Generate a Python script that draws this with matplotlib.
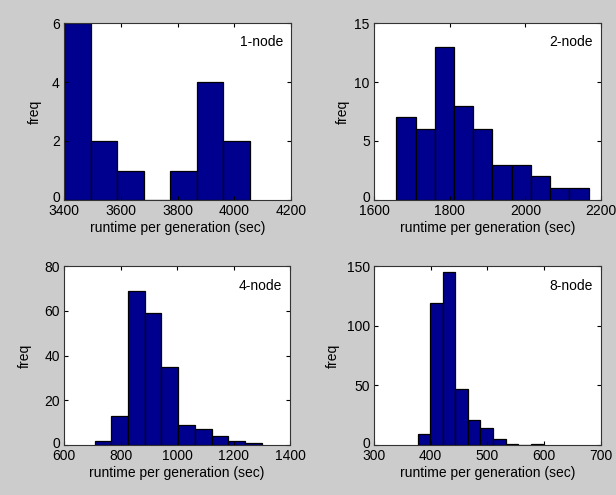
import matplotlib
matplotlib.use("Agg")
import matplotlib.pyplot as plt
import matplotlib.transforms as mtransforms

# ---- data ----
edges_1 = [3400, 3494, 3588, 3681, 3775, 3869, 3962, 4056]
counts_1 = [6, 2, 1, 0, 1, 4, 2]

edges_2 = [1659, 1710, 1761, 1811, 1862, 1913, 1964, 2015, 2065, 2116, 2167]
counts_2 = [7, 6, 13, 8, 6, 3, 3, 2, 1, 1]

edges_4 = [708, 767, 827, 886, 945, 1005, 1064, 1123, 1182, 1242, 1301]
counts_4 = [2, 13, 69, 59, 35, 9, 7, 4, 2, 1]

edges_8 = [377, 399, 421, 443, 465, 487, 510, 532, 554, 576, 598]
counts_8 = [9, 119, 145, 47, 21, 14, 5, 1, 0, 1]

labels = ["1-node", "2-node", "4-node", "8-node"]
xlims = [(3400, 4200), (1600, 2200), (600, 1400), (300, 700)]
xticks = [[3400, 3600, 3800, 4000, 4200], [1600, 1800, 2000, 2200],
          [600, 800, 1000, 1200, 1400], [300, 400, 500, 600, 700]]
ylims = [(0, 6), (0, 15), (0, 80), (0, 150)]
yticks = [[0, 2, 4, 6], [0, 5, 10, 15], [0, 20, 40, 60, 80], [0, 50, 100, 150]]
xlabel = "runtime per generation (sec)"
ylabel = "freq"

plt.rcParams['font.family'] = ['Liberation Sans', 'DejaVu Sans']
plt.rcParams['font.size'] = 10

fig = plt.figure(figsize=(6.16, 4.95), dpi=100, facecolor='#cccccc')

W, H = 616, 495
boxes = [(64, 23, 291, 200), (374, 23, 601, 200),
         (64, 266, 290, 445), (374, 266, 601, 445)]
ylab_x = [-0.130, -0.139, -0.173, -0.181]
data = [(edges_1, counts_1), (edges_2, counts_2), (edges_4, counts_4), (edges_8, counts_8)]

for i, ((l, t, r, b), (edges, counts)) in enumerate(zip(boxes, data)):
    ax = fig.add_axes([l / W, (H - b) / H, (r - l) / W, (b - t) / H])
    ax.set_facecolor('white')
    lefts = edges[:-1]
    widths = [edges[k + 1] - edges[k] for k in range(len(edges) - 1)]
    ax.bar(lefts, counts, width=widths, align='edge', color='#00008f',
           edgecolor='black', linewidth=0.9)
    ax.set_xlim(*xlims[i])
    ax.set_ylim(*ylims[i])
    ax.set_xticks(xticks[i])
    ax.set_yticks(yticks[i])
    ax.tick_params(direction='in', length=3, width=0.8, top=True, right=True,
                   labelsize=10, colors='black')
    ax.tick_params(axis='x', pad=3)
    ax.tick_params(axis='y', pad=3)
    for s in ax.spines.values():
        s.set_linewidth(0.8)
        s.set_color('#333333')
    ax.set_xlabel(xlabel, fontsize=10, labelpad=2)
    ax.set_ylabel(ylabel, fontsize=10)
    ax.yaxis.set_label_coords(ylab_x[i], 0.5)
    ax.yaxis.label.set_va('center')
    # lift the "0" y tick label slightly, as in the reference
    fig.canvas.draw()
    ylbls = ax.get_yticklabels()
    if ylbls:
        ylbls[0].set_transform(ylbls[0].get_transform() +
                               mtransforms.ScaledTranslation(0, 3 / 100, fig.dpi_scale_trans))
    ax.text(0.965, 0.89, labels[i], transform=ax.transAxes, ha='right',
            va='center', fontsize=10)

fig.savefig("out.png", dpi=100, facecolor=fig.get_facecolor())
